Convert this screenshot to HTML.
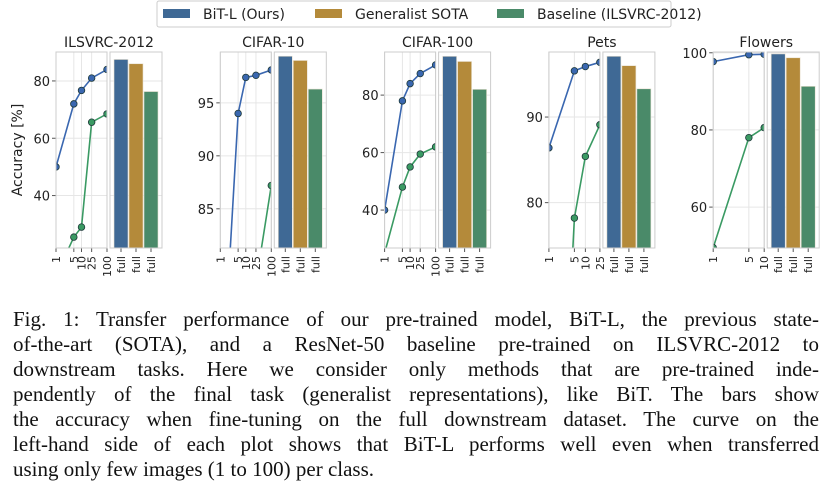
<!DOCTYPE html>
<html><head><meta charset="utf-8">
<style>
html,body{margin:0;background:#fff;width:828px;height:503px;overflow:hidden;font-family:"DejaVu Sans","Liberation Sans",sans-serif}
#cap{position:absolute;left:13px;top:307px;width:806px;height:180px;overflow:hidden;font-family:"Liberation Serif",serif;font-size:21px;line-height:25px;color:#111}
#cap div{text-align:justify;text-align-last:justify;white-space:nowrap}
#cap div.last{text-align-last:left}
</style></head><body>
<svg id="chart" width="828" height="300" style="position:absolute;left:0;top:0" xmlns="http://www.w3.org/2000/svg"></svg>
<div id="cap">
<div>Fig. 1: Transfer performance of our pre-trained model, BiT-L, the previous state-</div>
<div>of-the-art (SOTA), and a ResNet-50 baseline pre-trained on ILSVRC-2012 to</div>
<div>downstream tasks. Here we consider only methods that are pre-trained inde-</div>
<div>pendently of the final task (generalist representations), like BiT. The bars show</div>
<div>the accuracy when fine-tuning on the full downstream dataset. The curve on the</div>
<div>left-hand side of each plot shows that BiT-L performs well even when transferred</div>
<div class="last">using only few images (1 to 100) per class.</div>
</div>
<script>
const datasets = ["ILSVRC-2012","CIFAR-10","CIFAR-100","Pets","Flowers"];
const shots = [[1,5,10,25,100],[1,5,10,25,100],[1,5,10,25,100],[1,5,10,25],[1,5,10]];
const bitCurve = [[50,72,76.7,81,84],[65,94,97.4,97.6,98.1],[40,78,84,87.5,90.5],[86.4,95.4,95.9,96.4],[97.7,99.5,99.6]];
const baseCurve = [[12,25.5,29,65.6,68.5],[55,70,76,78,87.2],[25,48,55,59.5,62],[20,78.2,85.4,89.1],[49.5,78,80.6]];
const barBit = [87.5,99.4,93.5,97.1,99.7];
const barSota = [86,99.0,91.7,96.0,98.7];
const barBase = [76.3,96.3,82,93.3,91.3];
const yRanges = [[21.7,90.1],[81.3,99.8],[26.8,95],[74.7,97.6],[49.4,100.2]];
const yTicks = [[40,60,80],[85,90,95],[40,60,80],[80,90],[60,80,100]];
const legendLabels = ["BiT-L (Ours)","Generalist SOTA","Baseline (ILSVRC-2012)"];

const NS="http://www.w3.org/2000/svg";
const svg=document.getElementById('chart');
function mk(tag,attrs,parent){const e=document.createElementNS(NS,tag);for(const k in attrs)e.setAttribute(k,attrs[k]);(parent||svg).appendChild(e);return e;}
const barCols=["#3f6995","#b48a3a","#4a8a69"];
const lineCols=["#3a67b0","#3a9a63"];
const yTop=52,yBot=248,step=164.3,lw=51,bOff=54,bw=52;
for(let p=0;p<5;p++){
  const g=mk('g',{});
  
  
  const L=56+p*step,R=L+lw,BL=L+bOff,BR=BL+bw;
  const [y0,y1]=yRanges[p];
  const ys=v=>yBot-(v-y0)/(y1-y0)*(yBot-yTop);
  const xm=shots[p][shots[p].length-1];
  const xs=v=>L+Math.log10(v)/Math.log10(xm)*(R-L);
  const clip=mk('clipPath',{id:'c'+p},g);mk('rect',{x:L,y:yTop,width:lw,height:yBot-yTop},clip);
  yTicks[p].forEach(t=>{const y=ys(t);
    mk('line',{x1:L,x2:R,y1:y,y2:y,stroke:'#e6e6e6','stroke-width':1},g);
    mk('line',{x1:BL,x2:BR,y1:y,y2:y,stroke:'#e6e6e6','stroke-width':1},g);
    mk('line',{x1:L-4,x2:L,y1:y,y2:y,stroke:'#555','stroke-width':1},g);
    const tl=mk('text',{x:L-6,y:y+5,'text-anchor':'end','font-size':13,fill:'#222'},g);tl.textContent=t;
    
    
  });
  shots[p].forEach(s=>{const x=xs(s);
    mk('line',{x1:x,x2:x,y1:yTop,y2:yBot,stroke:'#e6e6e6','stroke-width':1},g);
    mk('line',{x1:x,x2:x,y1:yBot,y2:yBot+4,stroke:'#555','stroke-width':1},g);
    const tl=mk('text',{x:x+4,y:yBot+8,'text-anchor':'end','font-size':11,fill:'#222',transform:`rotate(-90 ${x+4} ${yBot+8})`},g);tl.textContent=s;
    
    
  });
  [bitCurve,baseCurve].forEach((cur,ci)=>{
    const cg=mk('g',{'clip-path':`url(#c${p})`},g);
    
    
    const pts=shots[p].map((s,i)=>xs(s)+','+ys(cur[p][i])).join(' ');
    mk('polyline',{points:pts,fill:'none',stroke:lineCols[ci],'stroke-width':1.6},cg);
    shots[p].forEach((s,i)=>{const c=mk('circle',{cx:xs(s),cy:ys(cur[p][i]),r:3.3,fill:lineCols[ci],stroke:'#1f3a3a','stroke-width':0.8},cg);
      
      });
  });
  mk('rect',{x:L,y:yTop,width:lw,height:yBot-yTop,fill:'none',stroke:'#cccccc','stroke-width':1},g);
  [barBit,barSota,barBase].forEach((arr,bi)=>{
    const x=BL+4+bi*15;const y=ys(arr[p]);
    const r=mk('rect',{x:x,y:y,width:14,height:yBot-y,fill:barCols[bi],stroke:'#e8e0d0','stroke-width':0.6},g);
    
    
    const cx=x+7;
    mk('line',{x1:cx,x2:cx,y1:yBot,y2:yBot+4,stroke:'#555','stroke-width':1},g);
    const tl=mk('text',{x:cx+4,y:yBot+8,'text-anchor':'end','font-size':11,fill:'#222',transform:`rotate(-90 ${cx+4} ${yBot+8})`},g);tl.textContent='full';
    
    
  });
  mk('rect',{x:BL,y:yTop,width:bw,height:yBot-yTop,fill:'none',stroke:'#cccccc','stroke-width':1},g);
  const tt=mk('text',{x:(L+BR)/2,y:47,'text-anchor':'middle','font-size':14,fill:'#222'},g);tt.textContent=datasets[p];
  
  
}
const yl=mk('text',{x:22,y:150,'text-anchor':'middle','font-size':14,fill:'#222',transform:'rotate(-90 22 150)'});yl.textContent='Accuracy [%]';


const lg=mk('g',{});


mk('rect',{x:157,y:1,width:514,height:26,fill:'#fff',stroke:'#cccccc','stroke-width':1,rx:2},lg);
const lx=[163,315,497];
legendLabels.forEach((t,i)=>{
  const s=mk('rect',{x:lx[i],y:9,width:27,height:9,fill:barCols[i]},lg);
  
  
  const tx=mk('text',{x:lx[i]+40,y:19,'font-size':14,fill:'#222'},lg);tx.textContent=t;
  
  
});
</script>
</body></html>
